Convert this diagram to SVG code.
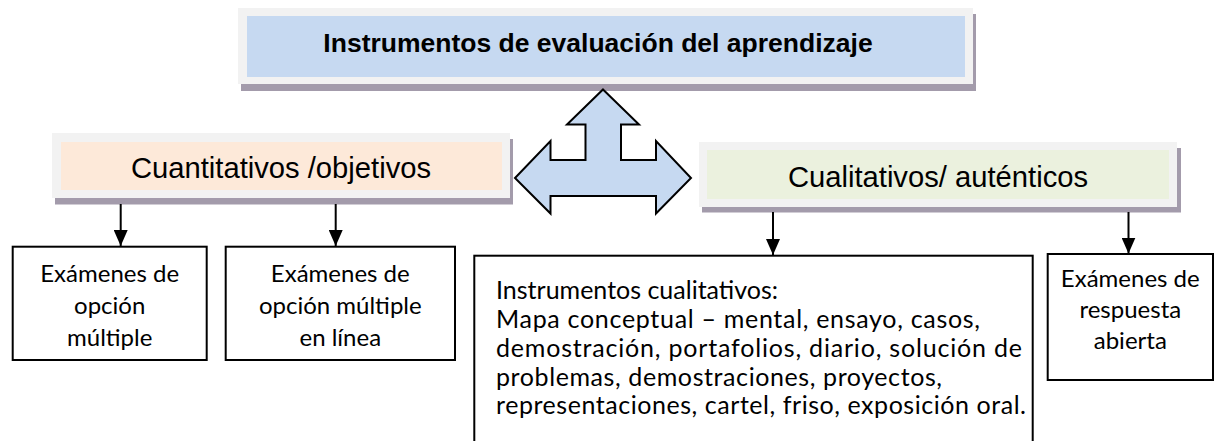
<svg xmlns="http://www.w3.org/2000/svg" width="1218" height="441" viewBox="0 0 1218 441">
<style>
.frame{fill:#f2f2f2}
.shadow{fill:#a39bab}
.box{fill:#ffffff;stroke:#000000;stroke-width:2}
.conn{stroke:#000000;stroke-width:2;fill:none}
.title{font-family:"Liberation Sans",Arial,sans-serif;font-weight:bold;font-size:26.5px;fill:#000}
.sub{font-family:"Liberation Sans",Arial,sans-serif;font-size:29.2px;fill:#000}
.t{font-family:Lato,"Liberation Sans",sans-serif;font-size:24px;fill:#000}
.tb{font-family:Lato,"Liberation Sans",sans-serif;font-size:25px;fill:#000}
</style>
<defs>
<marker id="ah" viewBox="0 0 16 14" refX="16" refY="7" markerWidth="16" markerHeight="14" markerUnits="userSpaceOnUse" orient="auto">
<path d="M0,0 L16,7 L0,14 Z" fill="#000"/>
</marker>
</defs>
<rect width="1218" height="441" fill="#ffffff"/>

<g id="title">
<rect class="shadow" x="241" y="14" width="735" height="77"/>
<rect class="frame" x="238" y="8" width="735" height="76"/>
<rect x="247" y="16" width="718" height="61" fill="#c6d9f1"/>
<text class="title" x="598" y="51.5" text-anchor="middle">Instrumentos de evaluación del aprendizaje</text>
</g>

<g id="bidir-arrow">
<path d="M603,89.5 L639,124.5 L621,124.5 L621,160 L656,160 L656,141 L691,178 L656,213.5 L656,196 L550.5,196 L550.5,213.5 L515,178 L550.5,141 L550.5,160 L585.5,160 L585.5,124.5 L567,124.5 Z" fill="#c6d9f1" stroke="#000" stroke-width="2" stroke-linejoin="miter"/>
</g>

<g id="cuantitativos">
<rect class="shadow" x="55" y="139" width="458" height="65.5"/>
<rect class="frame" x="52" y="133" width="458" height="65"/>
<rect x="61" y="142" width="441" height="48" fill="#fde9d9"/>
<text class="sub" x="281" y="178" text-anchor="middle">Cuantitativos /objetivos</text>
</g>

<g id="cualitativos">
<rect class="shadow" x="702" y="148" width="479" height="64.5"/>
<rect class="frame" x="699" y="142" width="478" height="65"/>
<rect x="707" y="150" width="462" height="49" fill="#ebf1de"/>
<text class="sub" x="938" y="187" text-anchor="middle">Cualitativos/ auténticos</text>
</g>

<g id="connectors">
<line class="conn" x1="120.7" y1="204" x2="120.7" y2="246" marker-end="url(#ah)"/>
<line class="conn" x1="335.7" y1="204" x2="335.7" y2="246" marker-end="url(#ah)"/>
<line class="conn" x1="773" y1="212" x2="773" y2="255" marker-end="url(#ah)"/>
<line class="conn" x1="1128.5" y1="212" x2="1128.5" y2="253.5" marker-end="url(#ah)"/>
</g>

<g id="opcion-multiple">
<rect class="box" x="12.7" y="246.7" width="194" height="113.3"/>
<text class="t" text-anchor="middle"><tspan x="109.7" y="281.5">Exámenes de</tspan><tspan x="109.7" y="313.5">opción</tspan><tspan x="109.7" y="345.5">múltiple</tspan></text>
</g>

<g id="opcion-multiple-linea">
<rect class="box" x="225.7" y="246.7" width="229.3" height="113.3"/>
<text class="t" text-anchor="middle"><tspan x="340.3" y="281.5">Exámenes de</tspan><tspan x="340.3" y="313.5">opción múltiple</tspan><tspan x="340.3" y="345.5">en línea</tspan></text>
</g>

<g id="instrumentos-cualitativos">
<rect class="box" x="474.3" y="255.7" width="558.4" height="220"/>
<text class="tb" x="496" y="298.5">Instrumentos cualitativos:</text>
<text class="tb" x="496" y="327.5" textLength="484" lengthAdjust="spacing">Mapa conceptual – mental, ensayo, casos,</text>
<text class="tb" x="496" y="356.5" textLength="526" lengthAdjust="spacing">demostración, portafolios, diario, solución de</text>
<text class="tb" x="496" y="385.5" textLength="446" lengthAdjust="spacing">problemas, demostraciones, proyectos,</text>
<text class="tb" x="496" y="414" textLength="530" lengthAdjust="spacing">representaciones, cartel, friso, exposición oral.</text>
</g>

<g id="respuesta-abierta">
<rect class="box" x="1047.7" y="254" width="165.3" height="126"/>
<text class="t" text-anchor="middle"><tspan x="1130.3" y="287">Exámenes de</tspan><tspan x="1130.3" y="318">respuesta</tspan><tspan x="1130.3" y="349">abierta</tspan></text>
</g>
</svg>
